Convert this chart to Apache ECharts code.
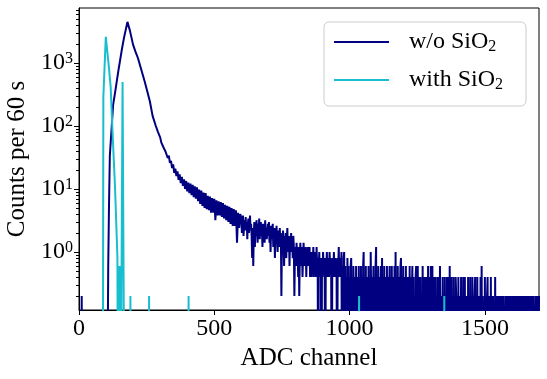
<!DOCTYPE html>
<html>
<head>
<meta charset="utf-8">
<script src="https://cdn.jsdelivr.net/npm/echarts@6/dist/echarts.min.js"></script>
<style>
  html, body { margin: 0; padding: 0; background: #fff; }
  #main { width: 547px; height: 379px; }
</style>
</head>
<body>
<div id="main"></div>
<script>
// spectra were taken over 300 s, one raw count = 0.2 counts per 60 s
const LIVE = 60 / 300;
const ZERO_FLOOR = 1e-3; // empty channels: drawn off the bottom like matplotlib does

// w/o SiO2 : rising edge and main peak (channel, counts per 60 s)
const navyPeakCh  = [0, 8, 10, 12, 104, 108, 111, 114, 120, 126, 134, 145, 152, 159, 167, 173, 179, 188, 200, 209, 218, 230, 243, 252, 262, 272, 284, 292];
const navyPeakVal = [0, 0, 0.2, 0, 0, 0.6, 6, 34, 85, 215, 355, 730, 1110, 1700, 2600, 3400, 4500, 3300, 1940, 1500, 1190, 790, 505, 360, 245, 145, 100, 80];

// w/o SiO2 : tail from channel 300, every 4th channel, counts per 60 s
const TAIL_A_START = 300;
const TAIL_A_STEP = 4;
const navyTailA = [
  66, 55, 57, 46, 49, 39, 41, 31, 34, 26,
  28, 21.5, 24.5, 18, 21, 16, 19, 14, 17, 12.4,
  15.6, 11.2, 14.2, 10.0, 13.4, 9.2, 12.6, 8.6, 12.2, 8.0,
  11.6, 7.4, 11.0, 7.0, 10.6, 6.4, 9.8, 5.8, 9.4, 5.4,
  8.8, 5.0, 8.6, 4.8, 7.8, 4.6, 7.6, 4.2, 7.2, 4.2,
  7.0, 3.2, 6.6, 3.8, 6.4, 3.8, 6.2, 3.6, 6.0, 3.4,
  5.6, 3.2, 5.4, 3.0, 5.2, 2.8, 5.0, 2.6, 4.8, 2.6,
  4.6, 1.4, 4.2, 2.4, 4.0
];
// w/o SiO2 : far tail from channel 600, every 2nd channel, raw counts
const TAIL_B_START = 600;
const TAIL_B_STEP = 2;
const navyTailB = [
  17, 10, 14, 19, 9, 13, 16, 11, 18, 12, 15, 8, 14, 17, 10, 13, 19, 11, 14, 9, 4, 12, 3, 10, 15,
  6, 13, 9, 16, 11, 7, 14, 10, 17, 8, 12, 15, 9, 11, 6, 14, 10, 13, 7, 16, 9, 12, 8, 11, 14,
  9, 15, 7, 11, 5, 13, 8, 10, 14, 6, 9, 12, 4, 10, 7, 13, 8, 5, 11, 9, 6, 12, 7, 10, 1,
  8, 5, 11, 7, 3, 9, 6, 10, 4, 8, 12, 5, 7, 9, 3, 8, 6, 10, 5, 7, 4, 9, 6, 1, 5,
  6, 3, 7, 4, 5, 2, 6, 1, 4, 7, 3, 5, 6, 2, 4, 7, 3, 5, 4, 6, 2, 5, 3, 6, 4,
  3, 6, 2, 4, 5, 2, 4, 3, 6, 2, 5, 3, 4, 2, 6, 3, 4, 0, 3, 5, 2, 4, 3, 0, 4,
  2, 5, 3, 4, 2, 0, 4, 3, 5, 2, 4, 3, 2, 5, 3, 4, 2, 0, 3, 4, 2, 5, 3, 2, 4,
  3, 2, 0, 4, 3, 6, 2, 3, 4, 2, 5, 0, 3, 0, 4, 5, 0, 3, 0, 2, 0, 4, 0, 3, 0,
  2, 0, 3, 4, 0, 2, 0, 3, 1, 0, 2, 0, 3, 0, 2, 1, 0, 3, 0, 2, 0, 3, 0, 2, 0,
  3, 5, 0, 2, 0, 3, 0, 1, 2, 0, 3, 0, 2, 0, 5, 1, 0, 2, 0, 3, 0, 2, 0, 3, 6,
  0, 2, 0, 3, 1, 0, 2, 0, 3, 0, 4, 0, 2, 0, 3, 0, 2, 1, 0, 3, 0, 2, 0, 1, 3,
  0, 2, 0, 3, 0, 2, 1, 0, 3, 0, 5, 0, 2, 0, 3, 0, 2, 0, 1, 3, 4, 0, 2, 0, 3,
  0, 2, 1, 0, 3, 0, 2, 0, 1, 2, 0, 3, 0, 2, 0, 1, 3, 0, 2, 0, 1, 0, 2, 3, 0,
  2, 3, 0, 1, 2, 0, 2, 0, 1, 0, 3, 0, 2, 1, 0, 2, 0, 1, 2, 0, 3, 0, 1, 2, 0,
  3, 0, 1, 3, 0, 2, 0, 1, 2, 0, 1, 0, 2, 0, 1, 2, 0, 3, 3, 0, 1, 0, 2, 0, 1,
  0, 2, 0, 1, 0, 2, 1, 0, 2, 0, 3, 0, 1, 2, 0, 1, 0, 2, 0, 1, 0, 2, 1, 0, 1,
  0, 2, 0, 1, 1, 0, 2, 0, 1, 0, 2, 0, 1, 2, 0, 1, 0, 1, 0, 2, 0, 1, 0, 2, 0,
  1, 0, 2, 0, 1, 0, 1, 2, 0, 1, 0, 2, 0, 1, 0, 1, 0, 2, 0, 3, 0, 1, 1, 1, 0,
  2, 0, 1, 0, 1, 2, 0, 1, 0, 1, 0, 2, 0, 1, 0, 1, 1, 1, 0, 2, 0, 1, 0, 1, 0,
  1, 0, 1, 0, 1, 0, 1, 0, 1, 0, 1, 1, 1, 0, 1, 0, 1, 0, 1, 0, 1, 0, 1, 0, 1,
  0, 1, 0, 1, 0, 1, 0, 1, 0, 1, 0, 1, 0, 1, 0, 1, 0, 1, 1, 0, 1, 0, 1, 0, 1,
  0, 1, 0, 1, 0, 1, 0, 1, 0, 1, 0, 1, 0, 1, 0, 1, 1, 1, 0, 1, 0, 1, 0, 1, 0,
  1
];

// with SiO2 (channel, counts per 60 s)
const cyanCh  = [0, 88, 90, 99, 104, 108, 117, 124, 133, 139, 142, 144, 146, 148, 150, 152, 154, 159, 161, 165, 168, 189, 190, 191, 258, 259, 260, 404, 405, 406, 1034, 1035, 1036, 1349, 1350, 1351, 1700];
const cyanVal = [0, 0, 290, 2600, 1600, 1100, 420, 78, 11, 2, 0.8, 0, 0.6, 0.2, 0, 0.6, 0, 0, 500, 520, 0, 0, 0.2, 0, 0, 0.2, 0, 0, 0.2, 0, 0, 0.2, 0, 0, 0.2, 0, 0];

const xTicks = [0, 500, 1000, 1500];
const yMajorTicks = [1, 10, 100, 1000];
const yMinorTicks = [0.2, 0.3, 0.4, 0.5, 0.6, 0.7, 0.8, 0.9,
  2, 3, 4, 5, 6, 7, 8, 9, 20, 30, 40, 50, 60, 70, 80, 90,
  200, 300, 400, 500, 600, 700, 800, 900, 2000, 3000, 4000, 5000, 6000, 7000];

const FONT = 'Liberation Serif';

function pt(ch, v) { return [ch, v > 0 ? v : ZERO_FLOOR]; }

const navyData = [];
navyPeakCh.forEach((c, i) => navyData.push(pt(c, navyPeakVal[i])));
navyTailA.forEach((v, i) => navyData.push(pt(TAIL_A_START + i * TAIL_A_STEP, v)));
navyTailB.forEach((n, i) => navyData.push(pt(TAIL_B_START + i * TAIL_B_STEP, n * LIVE)));
const cyanData = cyanCh.map((c, i) => pt(c, cyanVal[i]));

const chart = echarts.init(document.getElementById('main'));
const black = '#000';

chart.setOption({
  animation: false,
  grid: {
    left: 79, right: 8, top: 8, bottom: 69, outerBoundsMode: 'none',
    show: true, borderColor: black, borderWidth: 1, backgroundColor: 'transparent'
  },
  legend: {
    orient: 'vertical', left: 324, top: 22,
    padding: [8, 23, 13, 10], itemGap: 13, itemWidth: 55, itemHeight: 2, icon: 'rect',
    backgroundColor: 'rgba(255,255,255,0.85)', borderColor: '#cccccc', borderWidth: 1, borderRadius: 5,
    formatter: name => '{t|' + name.replace(/2$/, '') + '}{s|2}',
    textStyle: {
      padding: [0, 0, 0, 15],
      rich: {
        t: { fontFamily: FONT, fontSize: 24, lineHeight: 26, color: black },
        s: { fontFamily: FONT, fontSize: 16, lineHeight: 14, color: black, verticalAlign: 'bottom' }
      }
    },
    data: ['w/o SiO2', 'with SiO2']
  },
  xAxis: {
    type: 'value', min: 0, max: 1700,
    name: 'ADC channel', nameLocation: 'middle', nameGap: 30,
    nameTextStyle: { fontFamily: FONT, fontSize: 25, color: black },
    axisLine: { lineStyle: { color: black, width: 1 } },
    axisTick: { customValues: xTicks, length: 5, lineStyle: { color: black } },
    axisLabel: { customValues: xTicks, margin: 7, fontFamily: FONT, fontSize: 24, color: black, formatter: v => String(v) },
    splitLine: { show: false }
  },
  yAxis: [{
    type: 'log', logBase: 10, min: 0.12, max: 7470,
    name: 'Counts per 60 s', nameLocation: 'middle', nameGap: 49,
    nameTextStyle: { fontFamily: FONT, fontSize: 25, color: black },
    axisLine: { show: true, lineStyle: { color: black, width: 1 } },
    axisTick: { customValues: yMajorTicks, length: 5, lineStyle: { color: black } },
    axisLabel: {
      customValues: yMajorTicks, margin: 6,
      formatter: v => '{b|10}{e|' + Math.round(Math.log10(v)) + '}',
      rich: {
        b: { fontFamily: FONT, fontSize: 24, color: black },
        e: { fontFamily: FONT, fontSize: 16, color: black, verticalAlign: 'top' }
      }
    },
    splitLine: { show: false }
  }, {
    type: 'log', logBase: 10, min: 0.12, max: 7470, position: 'left',
    axisLine: { show: false },
    axisTick: { customValues: yMinorTicks, length: 3, lineStyle: { color: black } },
    axisLabel: { show: false },
    splitLine: { show: false }
  }],
  series: [{
    name: 'w/o SiO2', type: 'line', data: navyData, yAxisIndex: 0,
    showSymbol: false, symbol: 'none', clip: true,
    lineStyle: { color: '#000080', width: 2 }, itemStyle: { color: '#000080' }
  }, {
    name: 'with SiO2', type: 'line', data: cyanData, yAxisIndex: 0,
    showSymbol: false, symbol: 'none', clip: true,
    lineStyle: { color: '#17becf', width: 2 }, itemStyle: { color: '#17becf' }
  }]
});
</script>
</body>
</html>
